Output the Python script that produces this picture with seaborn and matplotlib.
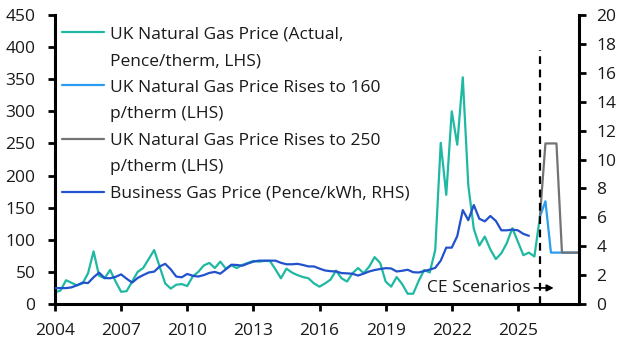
import numpy as np
import pandas as pd
import matplotlib
matplotlib.use("Agg")
import matplotlib.pyplot as plt
from matplotlib.lines import Line2D
import seaborn as sns

sns.set_theme(style="white")
plt.rcParams['font.family'] = ['Open Sans', 'DejaVu Sans']

# ---------------- data ----------------
start_year = 2004.0
gas_actual = [18, 21, 37, 33, 29, 32, 48, 82, 44, 40, 53, 35, 19, 20, 35, 50,
              56, 70, 84, 58, 32, 24, 30, 31, 28, 43, 50, 60, 64, 56, 66, 55,
              60, 56, 61, 64, 67, 66, 67, 67, 54, 40, 55, 49, 45, 42, 40, 32,
              27, 32, 38, 52, 40, 35, 48, 56, 48, 58, 73, 64, 35, 27, 42, 31,
              16, 16, 36, 53, 49, 84, 251, 170, 300, 248, 353, 185, 117, 91, 105, 85,
              70, 79, 95, 118, 97, 76, 80, 74, 136]
business_gas = [1.1, 1.1, 1.1, 1.15, 1.3, 1.48, 1.45, 1.85, 2.17, 1.8, 1.78, 1.88,
                2.05, 1.75, 1.48, 1.8, 2.0, 2.18, 2.24, 2.6, 2.78, 2.4, 1.9, 1.85,
                2.08, 1.95, 1.9, 2.0, 2.15, 2.22, 2.1, 2.4, 2.72, 2.7, 2.65, 2.8,
                2.93, 3.0, 3.0, 3.0, 3.0, 2.85, 2.75, 2.75, 2.78, 2.7, 2.6, 2.6,
                2.45, 2.32, 2.27, 2.25, 2.14, 2.12, 2.09, 1.97, 2.1, 2.25, 2.35, 2.42,
                2.48, 2.46, 2.25, 2.3, 2.37, 2.2, 2.18, 2.28, 2.38, 2.5, 3.0, 3.9,
                3.9, 4.7, 6.5, 5.8, 6.85, 5.9, 5.72, 6.09, 5.75, 5.1, 5.1, 5.15,
                5.1, 4.85, 4.72]
scen_start = 2026.0
scen_160 = [136, 160, 80, 80, 80, 80, 80, 80]
scen_250 = [136, 250, 250, 250, 80, 80, 80, 80]

labels = ["UK Natural Gas Price (Actual,\nPence/therm, LHS)",
          "UK Natural Gas Price Rises to 160\np/therm (LHS)",
          "UK Natural Gas Price Rises to 250\np/therm (LHS)",
          "Business Gas Price (Pence/kWh, RHS)"]
x_ticks = [2004, 2007, 2010, 2013, 2016, 2019, 2022, 2025]

C_TEAL = "#1fb8a3"
C_LBLUE = "#2b9df0"
C_GRAY = "#737373"
C_BLUE = "#2152cc"
TXT = "#1a1a1a"

df_gas = pd.DataFrame({"t": start_year + 0.25 * np.arange(len(gas_actual)), "v": gas_actual})
df_bus = pd.DataFrame({"t": start_year + 0.25 * np.arange(len(business_gas)), "v": business_gas})
df_160 = pd.DataFrame({"t": scen_start + 0.25 * np.arange(len(scen_160)), "v": scen_160})
df_250 = pd.DataFrame({"t": scen_start + 0.25 * np.arange(len(scen_250)), "v": scen_250})

fig = plt.figure(figsize=(6.29, 3.54), dpi=100)
ax = fig.add_axes([55 / 629, 1 - 304 / 354, (578.5 - 55) / 629, (304 - 15) / 354])
ax2 = ax.twinx()

lw = 1.6
sns.lineplot(data=df_160, x="t", y="v", ax=ax, color=C_LBLUE, lw=lw)
sns.lineplot(data=df_250, x="t", y="v", ax=ax, color=C_GRAY, lw=lw)
sns.lineplot(data=df_gas, x="t", y="v", ax=ax, color=C_TEAL, lw=lw)
sns.lineplot(data=df_bus, x="t", y="v", ax=ax2, color=C_BLUE, lw=lw)

ax.set_xlim(2004, 2027.75)
ax.set_ylim(0, 450)
ax2.set_ylim(0, 20)
ax.set_yticks(np.arange(0, 451, 50))
ax2.set_yticks(np.arange(0, 21, 2))
ax.set_xticks(x_ticks)
ax.set_xticklabels([str(t) for t in x_ticks])
for a in (ax, ax2):
    a.set_xlabel("")
    a.set_ylabel("")
    a.grid(False)
    for s in a.spines.values():
        s.set_color("black")
        s.set_linewidth(2.2)
    a.spines["top"].set_visible(False)
ax2.spines["left"].set_visible(False)
ax2.spines["bottom"].set_visible(False)
ax.spines["right"].set_visible(False)

fs = 12.5
ax.tick_params(axis="y", which="major", direction="out", length=5, width=2, color="black",
               labelsize=fs, labelcolor=TXT, pad=9, left=True)
ax.tick_params(axis="x", which="major", direction="out", length=5, width=2, color="black",
               labelsize=fs, labelcolor=TXT, pad=9, bottom=True)
ax2.tick_params(axis="y", which="major", direction="out", length=5, width=2, color="black",
                labelsize=fs, labelcolor=TXT, pad=8, right=True)

# scenario divider
ax.plot([2026.0, 2026.0], [0, 396], ls=(0, (3.5, 2.5)), color="black", lw=1.6, clip_on=False)
ax.annotate("", xy=(2026.75, 25), xytext=(2025.62, 25),
            arrowprops=dict(arrowstyle="-|>", color="black", lw=1.2, mutation_scale=10))
ax.text(2025.58, 25, "CE Scenarios", ha="right", va="center", fontsize=fs, color=TXT)

# legend: handle on first line of each wrapped label
handles, texts = [], []
for col, lab in zip([C_TEAL, C_LBLUE, C_GRAY, C_BLUE], labels):
    parts = lab.split("\n")
    handles.append(Line2D([], [], color=col, lw=lw))
    texts.append(parts[0])
    for p in parts[1:]:
        handles.append(Line2D([], [], color="none", lw=0))
        texts.append(p)
leg = ax.legend(handles, texts, loc="upper left", bbox_to_anchor=(0.0, 0.985), frameon=False,
                fontsize=fs, handlelength=2.4, handletextpad=0.35, labelspacing=0.6,
                borderaxespad=0.3, borderpad=0.1)
for t in leg.get_texts():
    t.set_color(TXT)

fig.savefig("out.png", dpi=100)
